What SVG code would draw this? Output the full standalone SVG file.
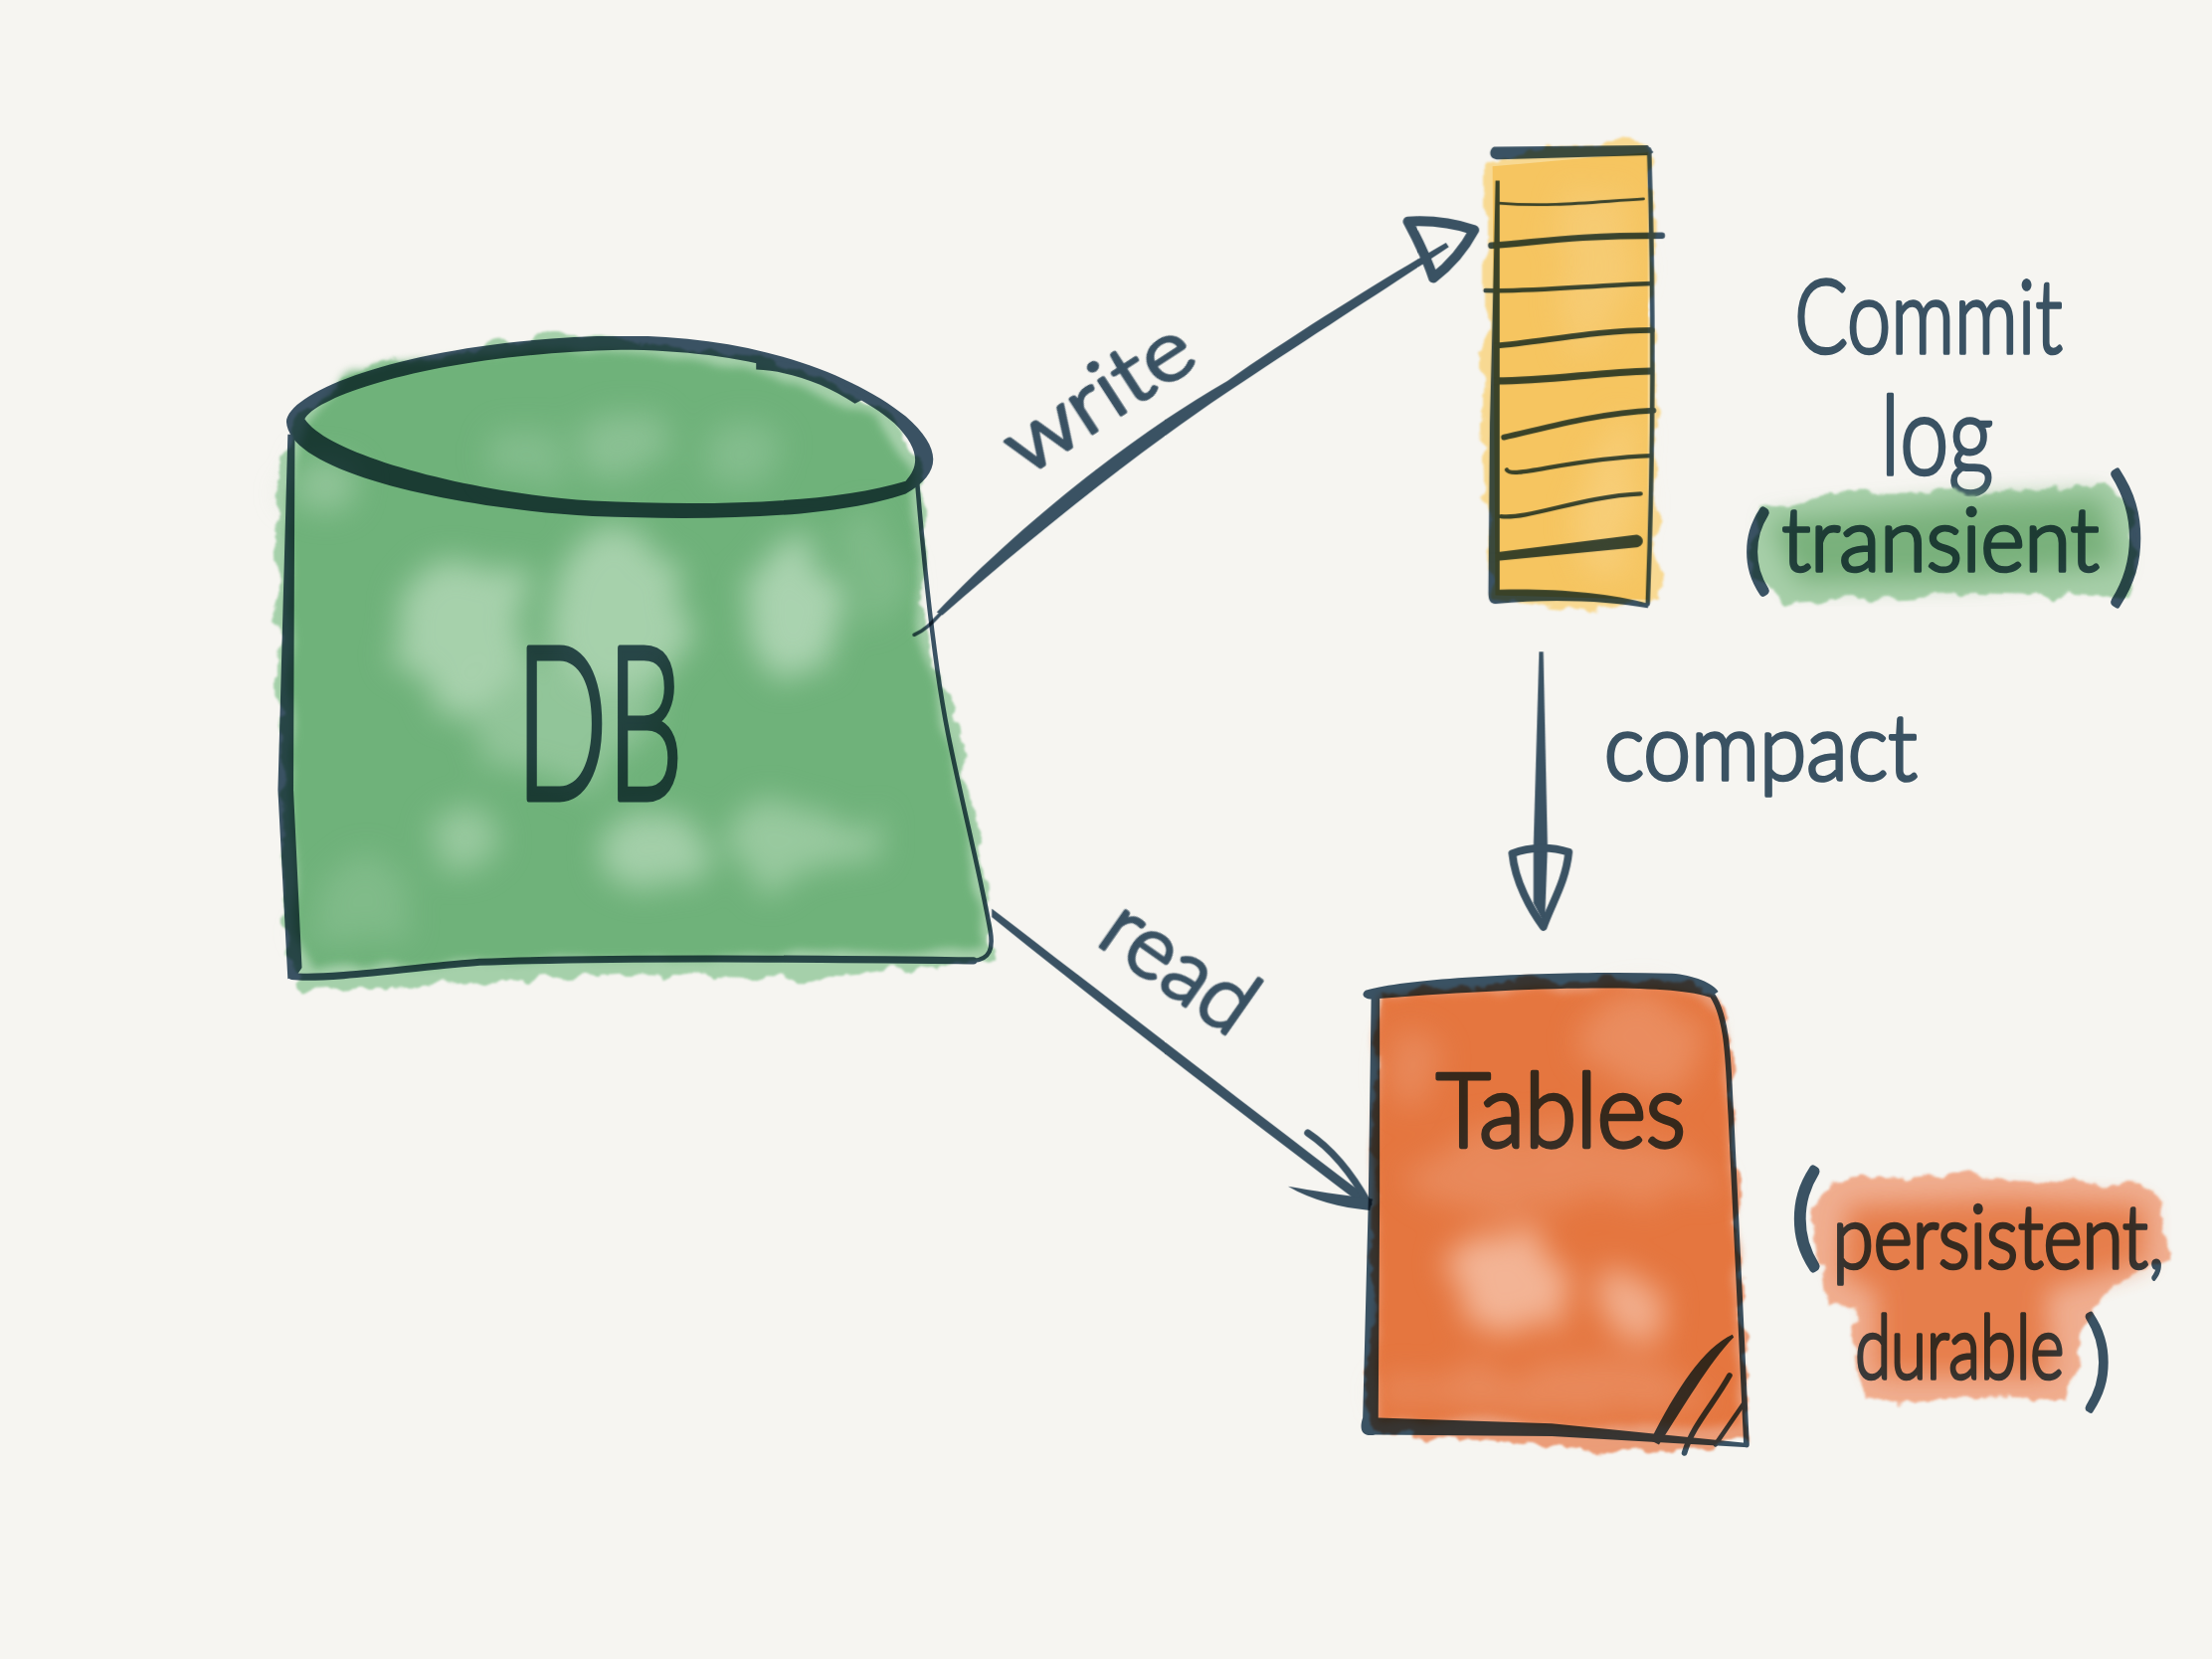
<svg xmlns="http://www.w3.org/2000/svg" width="2224" height="1668" viewBox="0 0 2224 1668">
<style>
.ink{mix-blend-mode:multiply}
.ln{fill:none;stroke:#3c5569;stroke-linecap:round;stroke-linejoin:round}
.fl{fill:#3c5569;fill-rule:evenodd}
.t{font-family:"Lato","Liberation Sans",sans-serif;font-weight:300;fill:#3c5569;stroke:#3c5569;stroke-linejoin:round;stroke-width:2.6}
</style>
<defs>
<filter id="rough" x="-15%" y="-15%" width="130%" height="130%" color-interpolation-filters="sRGB"><feTurbulence type="fractalNoise" baseFrequency="0.05" numOctaves="3" seed="7"/><feDisplacementMap in="SourceGraphic" scale="16" xChannelSelector="R" yChannelSelector="G"/><feGaussianBlur stdDeviation="0.7"/></filter>
<filter id="fine" x="-15%" y="-15%" width="130%" height="130%" color-interpolation-filters="sRGB"><feTurbulence type="fractalNoise" baseFrequency="0.03" numOctaves="2" seed="3"/><feDisplacementMap in="SourceGraphic" scale="12" xChannelSelector="R" yChannelSelector="G"/><feGaussianBlur stdDeviation="3"/></filter>
<filter id="soft" x="-30%" y="-30%" width="160%" height="160%"><feGaussianBlur stdDeviation="9"/></filter>
<filter id="blob" x="-80%" y="-80%" width="260%" height="260%" color-interpolation-filters="sRGB"><feTurbulence type="fractalNoise" baseFrequency="0.025" numOctaves="3" seed="11"/><feDisplacementMap in="SourceGraphic" scale="45" xChannelSelector="R" yChannelSelector="G"/><feGaussianBlur stdDeviation="11"/></filter>
</defs>
<g transform="scale(1.41837)">
<rect width="1568" height="1176" fill="#f6f5f1"/>

<g id="db">
<path d="M207,300 L255,262 L400,234 L545,255 L625,290 L655,330 L655,450 L680,515 L706,680 L600,694 L440,690 L215,704 L203,680 L195,350 Z" fill="#a5d0aa" filter="url(#rough)"/>
<path d="M215,300 L250,262 L400,245 L540,262 L620,295 L648,335 L650,450 L672,525 L698,672 L440,680 L220,685 L208,660 L205,350 Z" fill="#6fb27a" filter="url(#fine)"/>
<g filter="url(#blob)" fill="#b4d8b8">
<ellipse cx="330" cy="450" rx="45" ry="60" opacity=".8"/>
<ellipse cx="440" cy="435" rx="50" ry="55" opacity=".8"/>
<ellipse cx="560" cy="430" rx="34" ry="52" opacity=".85"/>
<ellipse cx="400" cy="510" rx="70" ry="40" opacity=".5"/>
<ellipse cx="445" cy="315" rx="30" ry="24" opacity=".4"/>
<ellipse cx="370" cy="325" rx="28" ry="16" opacity=".3"/>
<ellipse cx="530" cy="325" rx="20" ry="20" opacity=".3"/>
<ellipse cx="225" cy="345" rx="22" ry="22" opacity=".5"/>
<ellipse cx="333" cy="592" rx="26" ry="18" opacity=".6"/>
<ellipse cx="458" cy="603" rx="38" ry="24" opacity=".75"/>
<ellipse cx="565" cy="600" rx="50" ry="28" opacity=".6"/>
<ellipse cx="250" cy="640" rx="40" ry="25" opacity=".25"/>
<ellipse cx="620" cy="400" rx="20" ry="40" opacity=".25"/>
</g>
<g class="ink">
<path class="fl" d="M203,299 C205,275 300,240 440,238 C530,238 600,262 642,295 C668,318 668,335 642,350 C590,368 500,369 420,366 C320,360 205,335 203,299 Z M216,297 C225,280 310,251 440,248 C530,248 600,270 634,300 C652,318 652,330 642,341 C590,357 500,359 420,355 C330,349 232,322 216,297 Z"/>
<path class="fl" d="M536,256 C560,253 585,265 614,282 L606,286 C585,272 560,263 536,262 Z"/>
<path class="fl" d="M204,308 L209,308 L208,560 L214,686 L210,692 L204,694 L197,560 Z"/>
<path class="ln" stroke-width="5" d="M207,692 C230,695 300,685 340,682 C440,678 600,680 690,681"/>
<path class="ln" stroke-width="3.2" d="M650,340 C655,400 662,470 672,520 C682,570 695,620 702,660 C704,672 702,680 690,681"/>
<text class="t" x="366" y="566" font-size="150" style="stroke-width:5" textLength="118" lengthAdjust="spacingAndGlyphs">DB</text>
</g>
</g>

<g id="commit-log">
<path d="M1052,115 L1100,102 L1170,100 L1172,250 L1176,425 L1120,432 L1056,425 L1052,300 Z" fill="#f8d992" filter="url(#rough)"/>
<path d="M1058,118 L1168,108 L1168,425 L1060,422 Z" fill="#f6c560"/>
<g filter="url(#blob)" fill="#f9dc9e"><ellipse cx="1130" cy="190" rx="25" ry="60" opacity=".3"/><ellipse cx="1140" cy="360" rx="20" ry="60" opacity=".4"/></g>
<g class="ink">
<path class="fl" d="M1059,104 L1168,103 L1172,108 L1169,110 L1062,113 C1055,113 1055,106 1059,104 Z"/>
<path class="ln" stroke-width="3.2" d="M1169,106 C1172,200 1172,320 1168,428"/>
<path class="fl" d="M1060,128 L1063,128 L1063,300 L1063,418 C1100,417 1140,420 1169,428 L1168,431 C1140,426 1100,424 1060,428 C1056,428 1055,425 1055,420 L1056,300 L1058,220 Z"/>
<path class="ln" stroke-width="2" d="M1062,144 C1100,147 1130,143 1165,141"/>
<path class="ln" stroke-width="4.5" d="M1057,174 C1090,172 1110,167 1178,167"/>
<path class="ln" stroke-width="3.2" d="M1053,206 C1090,207 1130,202 1170,201"/>
<path class="ln" stroke-width="4" d="M1060,245 C1090,243 1130,234 1171,234"/>
<path class="ln" stroke-width="5" d="M1060,270 C1100,270 1130,264 1170,263"/>
<path class="ln" stroke-width="4" d="M1066,310 C1090,305 1130,293 1172,291"/>
<path class="ln" stroke-width="3" d="M1068,333 C1072,340 1110,325 1170,323"/>
<path class="ln" stroke-width="3" d="M1064,366 C1085,368 1120,352 1163,350"/>
<path class="fl" d="M1056,392 L1160,379 C1166,380 1166,387 1160,388 L1056,398 Z"/>
</g>
</g>

<g id="commit-log-label">
<text class="t ink" x="1272" y="250" font-size="72" textLength="190" lengthAdjust="spacingAndGlyphs">Commit</text>
<text class="t ink" x="1333" y="336" font-size="78" textLength="80" lengthAdjust="spacingAndGlyphs">log</text>
<path d="M1245,362 L1300,350 L1400,350 L1490,342 L1512,365 L1512,425 L1400,420 L1270,428 L1242,410 Z" fill="#a7cfa9" filter="url(#rough)"/>
<path d="M1255,370 L1400,356 L1490,352 L1502,400 L1400,410 L1275,412 Z" fill="#79b17b" filter="url(#soft)"/>
<text class="t ink" font-size="62"><tspan x="1237" y="412" font-size="66" style="stroke-width:5">(</tspan><tspan x="1263" y="405" textLength="225" lengthAdjust="spacingAndGlyphs">transient</tspan><tspan x="1494" y="415" font-size="107" style="stroke-width:3.5">)</tspan></text>
</g>

<g id="tables">
<path d="M978,705 L1080,695 L1200,695 L1225,720 L1232,850 L1240,1022 L1150,1030 L1060,1022 L970,1015 Z" fill="#eb9d78" filter="url(#rough)"/>
<path d="M976,706 L1190,698 L1220,722 L1228,850 L1234,1012 L1100,1008 L976,1006 Z" fill="#e5763f" filter="url(#fine)"/>
<g filter="url(#blob)" fill="#f3b79a">
<ellipse cx="1070" cy="905" rx="40" ry="36" opacity=".95"/>
<ellipse cx="1158" cy="925" rx="20" ry="22" opacity=".85"/>
<ellipse cx="1165" cy="740" rx="38" ry="40" opacity=".35"/>
<ellipse cx="1100" cy="830" rx="110" ry="30" opacity=".3"/>
<ellipse cx="1100" cy="985" rx="120" ry="18" opacity=".3"/>
<ellipse cx="1005" cy="760" rx="18" ry="28" opacity=".3"/>
</g>
<g class="ink">
<path class="fl" d="M968,702 C1000,693 1100,688 1185,690 C1200,691 1215,697 1218,703 L1212,707 C1190,698 1100,698 975,708 C967,709 964,705 968,702 Z"/>
<path class="ln" stroke-width="4" d="M1212,703 C1226,720 1225,760 1227,790 C1230,860 1235,950 1238,1024"/>
<path class="fl" d="M972,706 L978,706 L978,850 L977,1005 L1100,1009 L1239,1023 L1239,1026 L1100,1018 L975,1017 C966,1019 963,1014 966,1005 L970,850 Z"/>
<path class="fl" d="M1170,1021 C1188,985 1208,955 1228,946 L1229,948 C1212,965 1192,1000 1176,1024 Z"/>
<path class="ln" stroke-width="4" d="M1194,1030 C1200,1010 1215,995 1226,975"/>
<path class="ln" stroke-width="3.2" d="M1216,1024 L1236,995"/>
<text class="t" x="1018" y="813" font-size="72" style="stroke-width:3" textLength="177" lengthAdjust="spacingAndGlyphs">Tables</text>
</g>
</g>

<g id="tables-label">
<path d="M1300,838 L1380,832 L1530,842 L1536,890 L1480,925 L1466,992 L1380,990 L1320,995 L1314,925 L1295,925 L1285,855 Z" fill="#f0ae90" filter="url(#rough)"/>
<path d="M1310,855 L1420,850 L1520,855 L1520,895 L1450,915 L1455,975 L1330,975 L1330,915 L1305,905 Z" fill="#e5763f" filter="url(#soft)" opacity=".85"/>
<text class="t ink" x="1270" y="889" font-size="79" style="stroke-width:5">(</text>
<text class="t ink" transform="translate(1299,899) scale(.8,1)" font-size="62" textLength="294" lengthAdjust="spacingAndGlyphs">persistent,</text>
<text class="t ink" transform="translate(1315,977) scale(.73,1)" font-size="62" textLength="203" lengthAdjust="spacingAndGlyphs">durable</text>
<text class="t ink" x="1477" y="990" font-size="77" style="stroke-width:3.5">)</text>
</g>

<g id="connectors" class="ink">
<path class="ln" stroke-width="2.5" d="M648,450 C660,445 665,435 680,422"/>
<path class="fl" d="M664,434 C720,375 800,310 870,270 C920,235 985,195 1025,172 L1027,175 C985,203 930,238 870,278 C800,325 730,382 668,436 Z"/>
<path class="ln" stroke-width="7" d="M998,157 C1015,156 1030,158 1045,163 C1038,176 1028,188 1016,197 C1011,182 1005,170 998,157 Z"/>
<path class="fl" d="M1091,462 L1094,462 L1097,600 L1095,655 L1087,640 L1087,600 Z"/>
<path class="ln" stroke-width="5.5" d="M1072,605 C1074,625 1085,645 1094,657 C1100,640 1110,625 1112,604 C1100,600 1085,600 1072,605"/>
<path class="fl" d="M703,644 C780,703 870,773 970,849 L967,855 C870,782 780,712 703,650 Z"/>
<path class="ln" stroke-width="5" d="M927,803 C945,815 960,835 970,853"/>
<path class="fl" d="M913,841 C930,844 950,847 973,850 L971,858 C950,856 930,851 913,841 Z"/>
</g>

<g id="connector-labels">
<text class="t ink" transform="translate(727,338) rotate(-33)" font-size="58" textLength="148" lengthAdjust="spacingAndGlyphs">write</text>
<text class="t ink" transform="translate(1137,553)" font-size="66" textLength="222" lengthAdjust="spacingAndGlyphs">compact</text>
<text class="t ink" transform="translate(776,668) rotate(35)" font-size="62" textLength="118" lengthAdjust="spacingAndGlyphs">read</text>
</g>
</g>
</svg>
